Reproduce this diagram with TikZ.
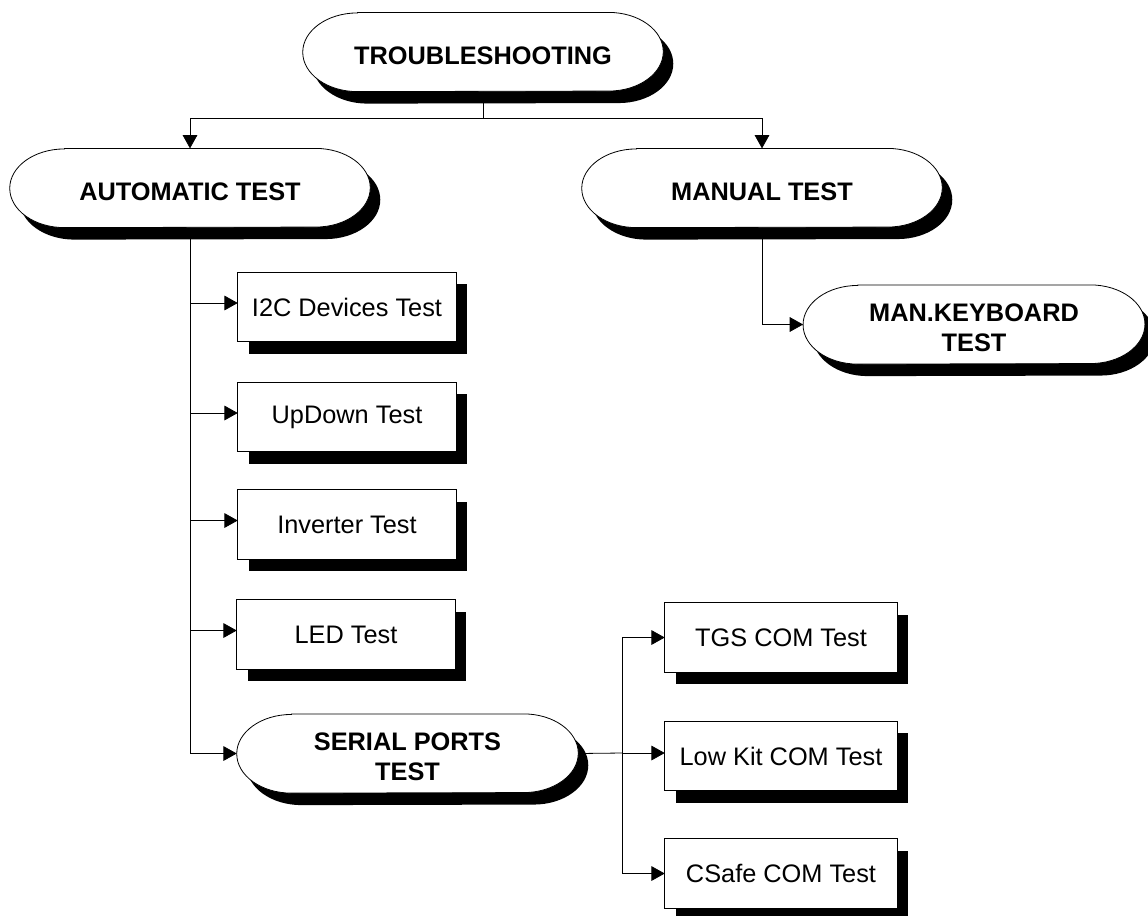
\documentclass[tikz,border=0pt]{standalone}
\usepackage{fontspec}
\setmainfont{Liberation Sans}
\usetikzlibrary{arrows.meta,backgrounds}

% rectangle with a solid drop shadow
\newcommand\shadowbox[1]{%
  \fill ([xshift=8.25pt,yshift=-9pt]#1.south west) rectangle ([xshift=8.25pt,yshift=-9pt]#1.north east);
  \draw[fill=white,line width=0.6pt] (#1.south west) rectangle (#1.north east);}

% flat-sided oval with elliptical ends and a solid drop shadow
\newcommand\shadowoval[1]{%
  \fill ([xshift=48.5pt,yshift=-9pt]#1.north west) -- ([xshift=-33.5pt,yshift=-9pt]#1.north east)
    arc[start angle=90,end angle=-90,x radius=41pt,y radius=29.5pt]
    -- ([xshift=48.5pt,yshift=-9pt]#1.south west)
    arc[start angle=270,end angle=90,x radius=41pt,y radius=29.5pt] -- cycle;
  \draw[fill=white,line width=0.6pt] ([xshift=41pt]#1.north west) -- ([xshift=-41pt]#1.north east)
    arc[start angle=90,end angle=-90,x radius=41pt,y radius=29.5pt]
    -- ([xshift=41pt]#1.south west)
    arc[start angle=270,end angle=90,x radius=41pt,y radius=29.5pt] -- cycle;}

% heading text, set a little below the middle of its oval
\newcommand\headtext[1]{\raisebox{-4.5pt}[\height][\depth]{\begin{tabular}{@{}c@{}}#1\end{tabular}}}

\tikzset{
  label font/.style={font=\fontsize{19}{22.5}\selectfont},
  testbox/.style={label font, inner sep=0pt, minimum width=163.5pt, minimum height=51.75pt},
  combox/.style={label font, inner sep=0pt, minimum width=174pt, minimum height=51.75pt},
  ovalnode/.style={font=\fontsize{19}{22.5}\selectfont\bfseries, inner sep=0pt,
    minimum height=59pt},
  link/.style={line width=0.6pt},
  arr/.style={link, -{Triangle[length=10pt,width=11pt]}},
}

\begin{document}
\begin{tikzpicture}[x=0.75pt,y=0.75pt]
\useasboundingbox (0,0) rectangle (1148,-915);

% main headings
\node[ovalnode, minimum width=270pt] (ts) at (483,-52) {\headtext{TROUBLESHOOTING}};
\node[ovalnode, minimum width=270pt] (auto) at (190,-188) {\headtext{AUTOMATIC TEST}};
\node[ovalnode, minimum width=270pt] (man) at (762,-188) {\headtext{MANUAL TEST}};
\node[ovalnode, minimum width=256pt] (kb) at (974,-324.5) {\headtext{MAN.KEYBOARD\\TEST}};

% automatic tests
\node[testbox] (i2c) at (347,-307) {I2C Devices Test};
\node[testbox] (updown) at (347,-417) {UpDown Test};
\node[testbox] (inverter) at (347,-524.5) {Inverter Test};
\node[testbox] (led) at (346,-634.5) {LED Test};
\node[ovalnode, minimum width=255.75pt] (serial) at (407.5,-753.5) {\headtext{SERIAL PORTS\\TEST}};

% serial port tests
\node[combox] (tgs) at (781,-637.5) {TGS COM Test};
\node[combox] (lowkit) at (781,-756) {Low Kit COM Test};
\node[combox] (csafe) at (781,-873.5) {CSafe COM Test};

\begin{scope}[on background layer]
  \shadowoval{ts}
  \shadowoval{auto}
  \shadowoval{man}
  \shadowoval{kb}
  \shadowoval{serial}
  \shadowbox{i2c}
  \shadowbox{updown}
  \shadowbox{inverter}
  \shadowbox{led}
  \shadowbox{tgs}
  \shadowbox{lowkit}
  \shadowbox{csafe}
\end{scope}

% connectors
\coordinate (split) at (483,-118);
\draw[link] (ts.south) -- (split);
\draw[arr] (split) -| (auto.north);
\draw[arr] (split) -| (man.north);

\draw[arr] (auto.south) |- (serial.west);
\draw[arr] ([yshift=3pt]i2c.west -| auto.south) -- ([yshift=3pt]i2c.west);
\draw[arr] ([yshift=3pt]updown.west -| auto.south) -- ([yshift=3pt]updown.west);
\draw[arr] ([yshift=3pt]inverter.west -| auto.south) -- ([yshift=3pt]inverter.west);
\draw[arr] ([yshift=3pt]led.west -| auto.south) -- ([yshift=3pt]led.west);

\draw[arr] (man.south) |- (kb.west);

\coordinate (sp) at (622,-753);
\draw[link] (serial.east) -- (sp);
\draw[arr] (sp) |- (tgs.west);
\draw[arr] (sp) -- (sp -| lowkit.west);
\draw[arr] (sp) |- (csafe.west);
\end{tikzpicture}
\end{document}
